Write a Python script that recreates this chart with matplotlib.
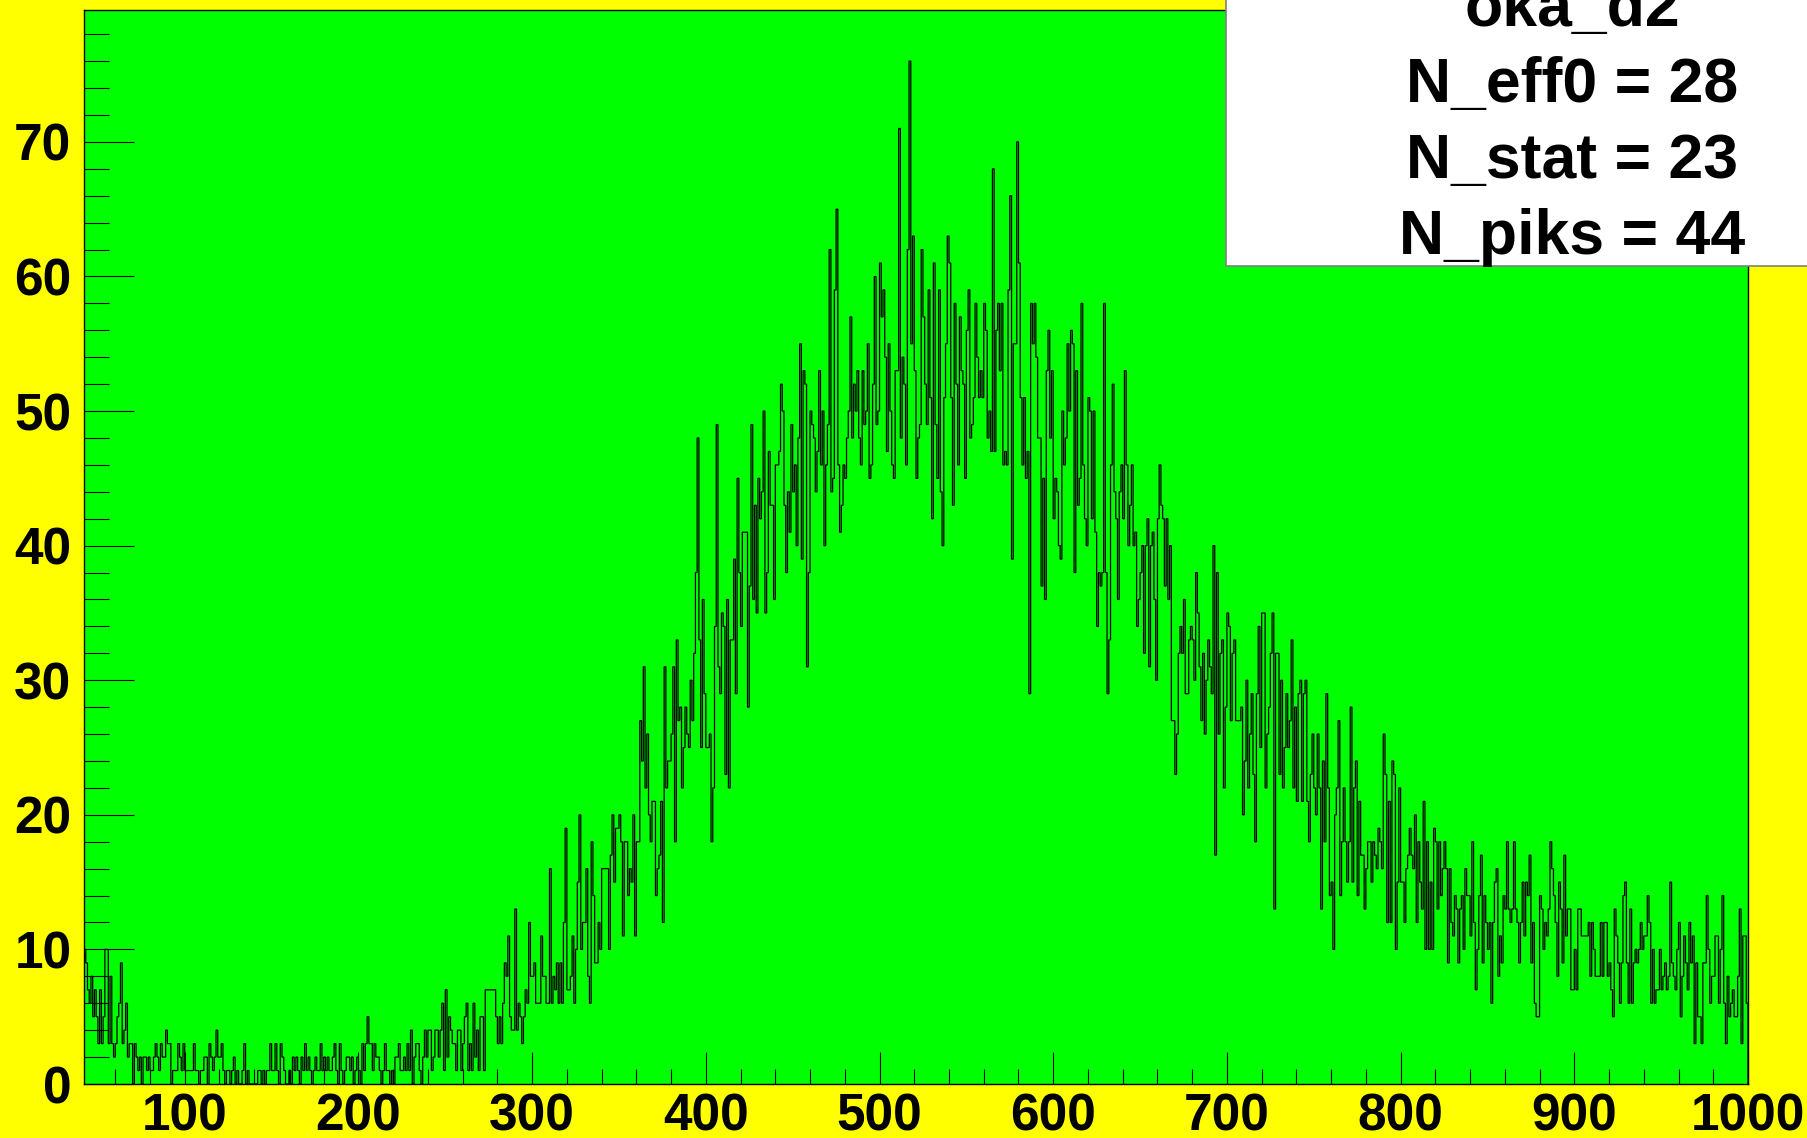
import numpy as np
import matplotlib
matplotlib.use("Agg")
from matplotlib import pyplot as plt
from matplotlib.patches import Rectangle
from matplotlib.ticker import MultipleLocator

plt.rcParams['font.family'] = ['Liberation Sans', 'DejaVu Sans']
plt.rcParams['font.weight'] = 'bold'

# counts per 1-unit bin, first bin starts at 42
lo_edge = 42
counts_a = [10, 9, 7, 6, 8, 5, 7, 5, 3, 7,
            3, 5, 10, 10, 3, 8, 3, 2, 3, 5,
            6, 9, 3, 4, 6, 2, 3, 3, 0, 3,
            2, 1, 2, 0, 2, 2, 1, 2, 1, 1,
            2, 3, 2, 1, 3, 2, 2, 4, 3, 3,
            0, 1, 1, 1, 3, 2, 1, 3, 1, 1,
            1, 1, 1, 3, 1, 1, 0, 1, 1, 2,
            2, 0, 3, 2, 1, 2, 4, 2, 2, 3,
            1, 0, 1, 1, 0, 1, 2, 0, 1, 0,
            0, 1, 3, 0, 1, 0, 0, 0, 0, 0,
            1, 1, 0, 1, 0, 1, 1, 3, 1, 1,
            3, 1, 0, 3, 2, 1, 0, 0, 1, 0,
            2, 1, 2, 1, 0, 2, 1, 3, 1, 2,
            1, 0, 1, 2, 1, 1, 3, 1]
counts_b = [2, 1, 2, 1, 1, 2, 3, 1, 0, 3,
            1, 0, 1, 2, 2, 1, 2, 0, 1, 2,
            1, 0, 3, 1, 3, 5, 3, 3, 1, 3,
            2, 2, 1, 0, 1, 3, 1, 1, 0, 1,
            0, 2, 2, 3, 1, 1, 2, 1, 3, 1,
            4, 0, 2, 3, 3, 1, 0, 2, 4, 2,
            4, 4, 1, 2, 4, 4, 2, 4, 6, 1,
            7, 2, 5, 4, 3, 3, 1, 4, 4, 1,
            3, 5, 6, 1, 3, 1, 6, 2, 4, 1,
            5, 5, 1, 7, 7, 7, 7, 7, 7, 5,
            3, 5, 3, 6, 9, 8, 11, 5, 4, 4,
            13, 4, 6, 5, 3, 5, 7, 6, 12, 8,
            8, 9, 6, 6, 6, 11, 8, 8, 6, 6,
            16, 6, 8, 7, 9, 6]
counts_c = [9, 6, 12, 19, 7, 7, 8, 11, 6, 10,
            15, 20, 10, 12, 12, 16, 8, 6, 18, 14,
            9, 9, 12, 10, 16, 16, 16, 16, 10, 17,
            20, 15, 19, 19, 20, 18, 11, 18, 18, 14,
            16, 15, 20, 11, 18, 18, 27, 24, 31, 22,
            26, 20, 18, 21, 21, 14, 16, 17, 21, 12,
            31, 22, 24, 24, 26, 31, 18, 33, 27, 28,
            22, 25, 28, 26, 25, 30, 27, 32, 38, 48,
            33, 25, 36, 29, 25, 25, 26, 18, 22, 34,
            49, 31, 29, 35, 34, 23, 36, 22, 33, 33,
            39, 29, 45, 38, 34, 41, 41, 41, 28, 37,
            49, 36, 43, 35, 45, 42, 44, 50, 35, 38,
            47, 43, 43, 36, 46, 46, 47, 52, 50, 43,
            38, 44, 41, 49, 44, 46, 40, 48]
counts_d = [55, 39, 53, 52, 31, 38, 50, 49, 48, 44,
            47, 53, 46, 50, 40, 46, 49, 62, 44, 45,
            59, 65, 46, 41, 43, 46, 45, 48, 50, 57,
            48, 52, 50, 53, 48, 46, 53, 49, 50, 55,
            45, 46, 52, 60, 49, 50, 61, 57, 59, 54,
            47, 55, 50, 46, 45, 53, 53, 71, 48, 54,
            52, 46, 62, 76, 55, 63, 53, 45, 48, 49,
            62, 57, 52, 49, 59, 51, 42, 61, 49, 45,
            59, 44, 40, 51, 55, 63, 61, 51, 43, 58,
            52, 46, 57, 53, 52, 45, 56, 59, 48, 49,
            51, 58, 54, 51, 53, 51, 58, 56, 48, 50,
            47, 68, 47, 56, 58, 53, 58, 46, 47, 46,
            59, 66, 39, 55, 55, 70, 61, 51, 46, 51,
            45, 47, 29, 58, 55, 58, 54, 48]
counts_e = [48, 37, 45, 36, 53, 56, 48, 53, 42, 45,
            44, 40, 39, 50, 46, 48, 55, 50, 56, 55,
            38, 53, 43, 45, 58, 46, 42, 40, 51, 50,
            42, 50, 41, 34, 38, 37, 38, 58, 38, 29,
            33, 46, 52, 44, 42, 36, 44, 46, 42, 53,
            46, 40, 43, 46, 40, 41, 34, 36, 38, 40,
            32, 40, 42, 31, 40, 41, 36, 30, 42, 46,
            43, 42, 37, 42, 36, 40, 27, 27, 23, 26,
            32, 34, 32, 36, 29, 29, 33, 34, 33, 30,
            38, 35, 31, 27, 32, 26, 30, 33, 31, 29,
            40, 17, 38, 26, 32, 33, 22, 28, 35, 34,
            27, 32, 33, 27, 27, 27, 28, 20, 24, 30,
            22, 26, 29, 23, 18, 29, 34, 25, 35, 35,
            22, 26, 28, 32, 35, 13, 32, 32]
counts_f = [23, 30, 22, 25, 29, 25, 27, 33, 22, 28,
            21, 29, 30, 21, 29, 30, 21, 18, 23, 26,
            22, 20, 26, 22, 13, 24, 18, 29, 22, 14,
            15, 10, 20, 22, 27, 14, 18, 22, 18, 15,
            18, 28, 15, 22, 24, 14, 21, 17, 17, 13,
            16, 18, 18, 15, 18, 17, 16, 19, 18, 16,
            26, 23, 12, 21, 12, 24, 23, 10, 15, 22,
            15, 15, 12, 16, 17, 19, 17, 16, 20, 12,
            18, 15, 13, 21, 10, 18, 10, 15, 10, 19,
            18, 13, 18, 14, 16, 18, 16, 9, 16, 12,
            11, 14, 13, 9, 13, 14, 10, 16, 14, 14,
            11, 18, 12, 7, 10, 14, 17, 9, 14, 12,
            10, 12, 6, 12, 15, 16, 8, 11, 9, 14,
            13, 18, 13, 12]
counts_g = [13, 18, 13, 12, 9, 12, 15, 11, 15, 14,
            17, 9, 12, 6, 5, 5, 14, 13, 10, 12,
            11, 13, 18, 16, 14, 12, 8, 15, 13, 9,
            17, 11, 13, 13, 7, 7, 10, 7, 13, 13,
            11, 11, 11, 11, 12, 8, 12, 10, 8, 8,
            8, 12, 8, 12, 12, 8, 9, 7, 5, 13,
            11, 9, 6, 9, 14, 15, 9, 6, 13, 6,
            9, 10, 9, 10, 12, 10, 11, 11, 14, 12,
            6, 10, 6, 7, 7, 10, 7, 8, 9, 7,
            8, 15, 9, 8, 7, 10, 12, 5, 8, 11,
            9, 7, 12, 9, 11, 3, 9, 5, 5, 3,
            9, 9, 14, 10, 6, 8, 8, 11, 11, 6,
            10, 14, 6, 3, 8, 5, 6, 7, 5, 5,
            8, 13, 3, 11, 11, 6]

counts = np.concatenate([counts_a, counts_b, counts_c, counts_d,
                         counts_e, counts_f, counts_g])
edges = np.arange(lo_edge, lo_edge + len(counts) + 1)

hist_name = 'oka_d2'
stat_names = ['N_eff0', 'N_stat', 'N_piks']
stat_values = [28, 23, 44]

W, H = 1808, 1138
fig = plt.figure(figsize=(W / 100, H / 100), dpi=100, facecolor='#ffff00')
ax = fig.add_axes([84 / W, 1 - 1084 / H, 1664 / W, 1074 / H])
ax.set_facecolor('#00ff00')

ax.stairs(counts, edges, color='black', lw=0.9)
ax.set_xlim(lo_edge, edges[-1])
ax.set_ylim(0, counts.max() * 1.05)

ax.xaxis.set_major_locator(MultipleLocator(100))
ax.xaxis.set_minor_locator(MultipleLocator(20))
ax.yaxis.set_major_locator(MultipleLocator(10))
ax.yaxis.set_minor_locator(MultipleLocator(2))
ax.tick_params(axis='x', which='major', direction='in', length=23, width=0.8,
               pad=6, labelsize=37)
ax.tick_params(axis='x', which='minor', direction='in', length=11, width=0.8)
ax.tick_params(axis='y', which='major', direction='in', length=36, width=0.8,
               pad=9, labelsize=37)
ax.tick_params(axis='y', which='minor', direction='in', length=18, width=0.8)
for sp in ax.spines.values():
    sp.set_linewidth(1.0)
    sp.set_color('black')

# stats box in the upper right corner, partly off the canvas
box = Rectangle((1226 / W, 1 - 266 / H), 1.0, 1.0, transform=fig.transFigure,
                facecolor='white', edgecolor='#808080', lw=1.2, zorder=5)
fig.patches.append(box)

lines = [hist_name] + [f'{n} = {v}' for n, v in zip(stat_names, stat_values)]
baselines = [26, 102, 178, 254]
for txt, yb in zip(lines, baselines):
    fig.text(1572 / W, 1 - yb / H, txt, ha='center', va='baseline',
             fontsize=45, fontweight='bold', zorder=6)

fig.savefig('out.png', dpi=100, facecolor=fig.get_facecolor())
